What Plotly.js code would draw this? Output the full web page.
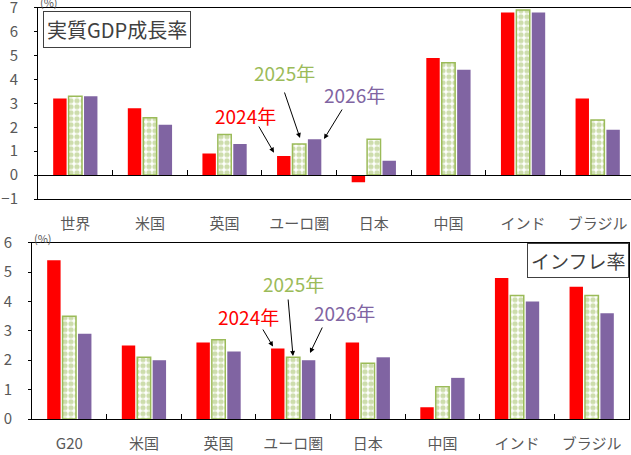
<!DOCTYPE html>
<html><head><meta charset="utf-8">
<script src="https://cdn.plot.ly/plotly-3.0.1.min.js"></script>
<style>html,body{margin:0;padding:0;overflow:hidden;background:#fff}#c{width:640px;height:455px}</style>
</head><body><div id="c"></div>
<script>
// ---- data ----
const catGDP = ['世界','米国','英国','ユーロ圏','日本','中国','インド','ブラジル'];
const gdp2024 = [3.2, 2.8, 0.9, 0.8, -0.3, 4.9, 6.8, 3.2];
const gdp2025 = [3.3, 2.4, 1.7, 1.3, 1.5, 4.7, 6.9, 2.3];
const gdp2026 = [3.3, 2.1, 1.3, 1.5, 0.6, 4.4, 6.8, 1.9];
const catCPI = ['G20','米国','英国','ユーロ圏','日本','中国','インド','ブラジル'];
const cpi2024 = [5.4, 2.5, 2.6, 2.4, 2.6, 0.4, 4.8, 4.5];
const cpi2025 = [3.5, 2.1, 2.7, 2.1, 1.9, 1.1, 4.2, 4.2];
const cpi2026 = [2.9, 2.0, 2.3, 2.0, 2.1, 1.4, 4.0, 3.6];
const seriesNames = ['2024年','2025年','2026年'];
const gdpRange = [-1, 7];
const cpiRange = [0, 6];

// ---- styling ----
const W = 640, H = 455;
const px = x => x / W, py = y => 1 - y / H;
const RED = '#FF0000', GREEN = '#9BBB59', PURPLE = '#8064A2';
const GRAY = '#595959';
const FONT = '"Noto Sans CJK JP", "Noto Sans", sans-serif';

const topDomX = [px(38), px(635)], topDomY = [py(199), py(7.7)];
const botDomX = [px(32), px(629)], botDomY = [py(419), py(242.7)];

function barTrace(cats, vals, idx, xa, ya) {
  const colors = [RED, GREEN, PURPLE];
  const t = {type:'bar', x:cats, y:vals, name:seriesNames[idx], xaxis:xa, yaxis:ya,
    showlegend:false, hoverinfo:'skip', marker:{color:colors[idx], line:{width:0}}};
  if (idx === 1) {
    t.marker = {color:'#ffffff', line:{color:GREEN, width:1.5},
      pattern:{shape:'.', fgcolor:GREEN, bgcolor:'#ffffff', size:6, solidity:0.6, fillmode:'overlay'}};
  }
  return t;
}

const data = [
  barTrace(catGDP, gdp2024, 0, 'x', 'y'),
  barTrace(catGDP, gdp2025, 1, 'x', 'y'),
  barTrace(catGDP, gdp2026, 2, 'x', 'y'),
  barTrace(catCPI, cpi2024, 0, 'x2', 'y2'),
  barTrace(catCPI, cpi2025, 1, 'x2', 'y2'),
  barTrace(catCPI, cpi2026, 2, 'x2', 'y2'),
  {type:'scatter', x:[null], y:[null], xaxis:'x3', yaxis:'y', showlegend:false, hoverinfo:'skip', mode:'markers'}
];

const zeroPos = topDomY[0] + (0 - gdpRange[0]) / (gdpRange[1] - gdpRange[0]) * (topDomY[1] - topDomY[0]);
const boundaryVals = catGDP.slice(1).map((c, i) => i + 0.5);

const tickFont = {family:FONT, size:15, color:GRAY};

const layout = {
  width:W, height:H, margin:{l:0, r:0, t:0, b:0},
  paper_bgcolor:'#fff', plot_bgcolor:'rgba(0,0,0,0)',
  bargap:0.38, bargroupgap:0.13, barmode:'group',
  font:{family:FONT, color:GRAY},
  xaxis:{domain:topDomX, anchor:'y', type:'category', showline:true, linecolor:'#000', linewidth:1, mirror:true,
    ticks:'', showgrid:false, tickfont:tickFont, ticklabelstandoff:11},
  yaxis:{domain:topDomY, anchor:'x', range:gdpRange, dtick:1, showline:true, linecolor:'#000', linewidth:1, mirror:true,
    ticks:'outside', ticklen:3, tickcolor:'#000', showgrid:false, zeroline:false, tickfont:tickFont, ticklabelstandoff:13,
    ticklabeloverflow:'allow'},
  xaxis3:{overlaying:'x', anchor:'free', position:zeroPos, range:[-0.5, catGDP.length - 0.5], type:'linear',
    showline:true, linecolor:'#000', linewidth:1, ticks:'inside', ticklen:5, tickcolor:'#000',
    tickmode:'array', tickvals:boundaryVals, showticklabels:false, showgrid:false, zeroline:false},
  xaxis2:{domain:botDomX, anchor:'y2', type:'category', showline:true, linecolor:'#000', linewidth:1, mirror:true,
    ticks:'inside', tickson:'boundaries', ticklen:5, tickcolor:'#000', showgrid:false, tickfont:tickFont, ticklabelstandoff:11},
  yaxis2:{domain:botDomY, anchor:'x2', range:cpiRange, dtick:1, showline:true, linecolor:'#000', linewidth:1, mirror:true,
    ticks:'outside', ticklen:3, tickcolor:'#000', showgrid:false, zeroline:false, tickfont:tickFont, ticklabelstandoff:13,
    ticklabeloverflow:'allow'},
  annotations: []
};

function label(text, x, y, color, size, extra) {
  return Object.assign({xref:'paper', yref:'paper', x:px(x), y:py(y), xanchor:'center', yanchor:'middle',
    text:text, showarrow:false, font:{family:FONT, size:size, color:color}}, extra || {});
}
function arrow(tx, ty, hx, hy) {
  return {xref:'paper', yref:'paper', x:px(hx), y:py(hy), ax:tx - hx, ay:ty - hy, axref:'pixel', ayref:'pixel',
    text:'', showarrow:true, arrowhead:2, arrowsize:1, arrowwidth:1, arrowcolor:'#000', standoff:0, startstandoff:0};
}
const colors = [RED, GREEN, PURPLE];
layout.annotations.push(
  label('実質GDP成長率', 117, 29.5, '#404040', 20, {bordercolor:'#404040', borderwidth:1, borderpad:3}),
  label('インフレ率', 578, 260.5, '#404040', 19, {bordercolor:'#404040', borderwidth:1, borderpad:3}),
  label('(%)', 49, 2, GRAY, 11),
  label('(%)', 43, 238, GRAY, 11),
  label(seriesNames[0], 245, 115.5, colors[0], 19),
  label(seriesNames[1], 284, 72.5, colors[1], 19),
  label(seriesNames[2], 354, 94.5, colors[2], 19),
  label(seriesNames[0], 248, 316.5, colors[0], 19),
  label(seriesNames[1], 293, 283.5, colors[1], 19),
  label(seriesNames[2], 344, 312.5, colors[2], 19),
  arrow(258, 125, 274, 152.7),
  arrow(284, 91, 300, 138),
  arrow(343, 108, 324, 139),
  arrow(262, 328, 273, 346.5),
  arrow(288, 298, 293, 356),
  arrow(323, 326, 310, 353)
);

Plotly.newPlot('c', data, layout, {staticPlot:true, displayModeBar:false});
</script></body></html>
